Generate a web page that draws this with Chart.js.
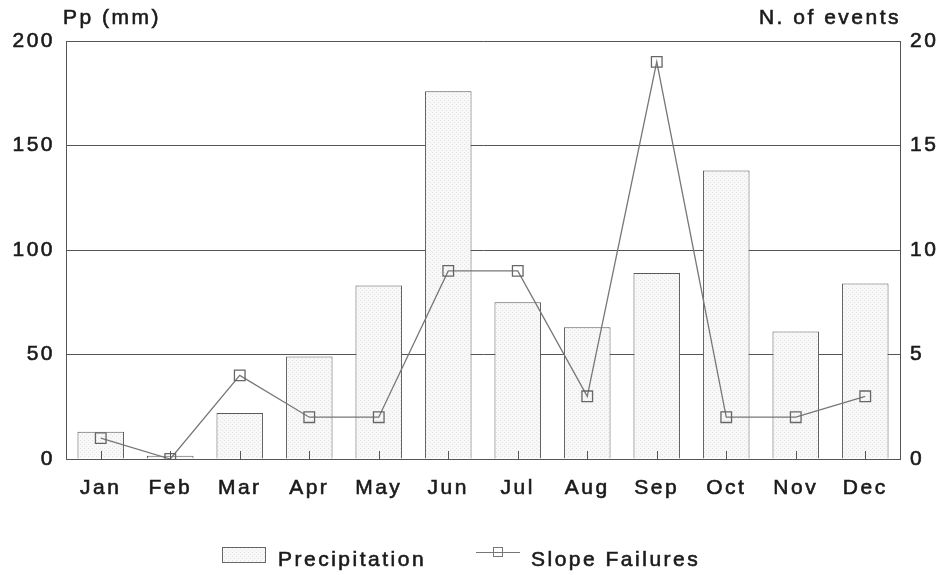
<!DOCTYPE html>
<html>
<head>
    <title>Precipitation and slope failures</title>
    <style>
        body {
            margin: 0;
            padding: 0;
            background-color: #ffffff;
        }
        .chart-container {
            width: 942px;
            height: 575px;
        }
    </style>
    <script src="https://cdn.jsdelivr.net/npm/chart.js"></script>
</head>
<body>
    <div class="chart-container">
        <canvas id="rainChart"></canvas>
    </div>
    <script>
        const months = ['Jan', 'Feb', 'Mar', 'Apr', 'May', 'Jun', 'Jul', 'Aug', 'Sep', 'Oct', 'Nov', 'Dec'];
        const precipitation = [13, 1.5, 22, 49, 83, 176, 75, 63, 89, 138, 61, 84];
        const slopeFailures = [1, 0, 4, 2, 2, 9, 9, 3, 19, 2, 2, 3];
        const leftTitle = 'Pp (mm)';
        const rightTitle = 'N. of events';

        const FONT = "'Liberation Sans', Arial, sans-serif";
        const SPACING = '2.5px';
        const textColor = '#1a1a1a';
        const lineColor = '#555555';
        const STROKE = 0.6; // slight extra weight, the print is between regular and bold

        // light stippled grey, like the printed bars
        function makeStipple() {
            const c = document.createElement('canvas');
            c.width = 4;
            c.height = 4;
            const g = c.getContext('2d');
            g.fillStyle = '#f8f8f8';
            g.fillRect(0, 0, 4, 4);
            g.fillStyle = '#e3e3e3';
            g.fillRect(0, 0, 1, 1);
            g.fillRect(2, 2, 1, 1);
            return g.createPattern(c, 'repeat');
        }
        const stipple = makeStipple();

        // letter spacing for all canvas text
        const spacingPlugin = {
            id: 'spacing',
            beforeLayout(chart) { chart.ctx.letterSpacing = SPACING; },
            beforeDraw(chart) { chart.ctx.letterSpacing = SPACING; }
        };

        function label(ctx, text, x, y) {
            ctx.strokeText(text, x, y);
            ctx.fillText(text, x, y);
        }

        // axis titles, inner ticks at bottom and the legend
        const extrasPlugin = {
            id: 'extras',
            afterDraw(chart) {
                const ctx = chart.ctx;
                const area = chart.chartArea;
                const x = chart.scales.x;
                const bars = chart.data.datasets.find(d => d.type === 'bar');
                const line = chart.data.datasets.find(d => d.type === 'line');
                ctx.save();
                ctx.letterSpacing = SPACING;
                ctx.fillStyle = textColor;
                ctx.strokeStyle = textColor;
                ctx.lineWidth = STROKE;
                ctx.font = '21px ' + FONT;
                ctx.textBaseline = 'middle';
                ctx.textAlign = 'left';
                label(ctx, leftTitle, area.left - 3, 18);
                ctx.textAlign = 'right';
                label(ctx, rightTitle, area.right + 1, 18);

                // short ticks pointing up from the x axis
                ctx.strokeStyle = lineColor;
                ctx.lineWidth = 1;
                months.forEach((m, i) => {
                    const px = Math.round(x.getPixelForValue(i)) + 0.5;
                    ctx.beginPath();
                    ctx.moveTo(px, area.bottom);
                    ctx.lineTo(px, area.bottom - 8);
                    ctx.stroke();
                });

                // legend
                const ly = 555;
                ctx.fillStyle = stipple;
                ctx.fillRect(222, ly - 8, 44, 16);
                ctx.strokeStyle = '#666666';
                ctx.strokeRect(222.5, ly - 7.5, 43, 15);
                ctx.strokeStyle = '#777777';
                ctx.beginPath();
                ctx.moveTo(476, ly - 2.5);
                ctx.lineTo(520, ly - 2.5);
                ctx.stroke();
                ctx.strokeRect(493.5, ly - 7.5, 9, 9);

                ctx.fillStyle = textColor;
                ctx.strokeStyle = textColor;
                ctx.lineWidth = STROKE;
                ctx.font = '21px ' + FONT;
                ctx.textAlign = 'left';
                label(ctx, bars.label, 278, ly + 5);
                label(ctx, line.label, 531, ly + 5);
                ctx.restore();
            }
        };

        const tickFont = { family: FONT, size: 21 };

        new Chart(document.getElementById('rainChart'), {
            data: {
                labels: months,
                datasets: [{
                    type: 'line',
                    label: 'Slope Failures',
                    data: slopeFailures,
                    yAxisID: 'y2',
                    borderColor: '#777777',
                    borderWidth: 1.3,
                    pointStyle: 'rect',
                    pointRadius: 7.5,
                    pointBorderWidth: 1.3,
                    pointBorderColor: '#666666',
                    pointBackgroundColor: 'rgba(0,0,0,0)',
                    tension: 0,
                    order: 0
                }, {
                    type: 'bar',
                    label: 'Precipitation',
                    data: precipitation,
                    yAxisID: 'y',
                    backgroundColor: stipple,
                    borderColor: '#5a5a5a',
                    borderWidth: 1,
                    barPercentage: 0.67,
                    categoryPercentage: 1,
                    order: 1
                }]
            },
            options: {
                responsive: true,
                maintainAspectRatio: false,
                animation: false,
                layout: { padding: { top: 41, right: 0, left: 0, bottom: 0 } },
                plugins: {
                    legend: { display: false },
                    tooltip: { enabled: false }
                },
                scales: {
                    x: {
                        grid: { display: false },
                        border: { display: true, color: lineColor, width: 1 },
                        ticks: {
                            color: textColor,
                            textStrokeColor: textColor,
                            textStrokeWidth: STROKE,
                            font: tickFont,
                            padding: 9,
                            maxRotation: 0
                        },
                        afterFit(scale) { scale.height = 116; }
                    },
                    y: {
                        position: 'left',
                        min: 0,
                        max: 200,
                        grid: { color: lineColor, lineWidth: 1, drawTicks: false },
                        border: { display: true, color: lineColor, width: 1 },
                        ticks: {
                            stepSize: 50,
                            color: textColor,
                            textStrokeColor: textColor,
                            textStrokeWidth: STROKE,
                            font: tickFont,
                            padding: 11
                        },
                        afterFit(scale) { scale.width = 66; }
                    },
                    y2: {
                        position: 'right',
                        min: 0,
                        max: 20,
                        grid: { display: false, drawTicks: false },
                        border: { display: true, color: lineColor, width: 1 },
                        ticks: {
                            stepSize: 5,
                            color: textColor,
                            textStrokeColor: textColor,
                            textStrokeWidth: STROKE,
                            font: tickFont,
                            padding: 10
                        },
                        afterFit(scale) { scale.width = 42; }
                    }
                }
            },
            plugins: [spacingPlugin, extrasPlugin]
        });
    </script>
</body>
</html>
